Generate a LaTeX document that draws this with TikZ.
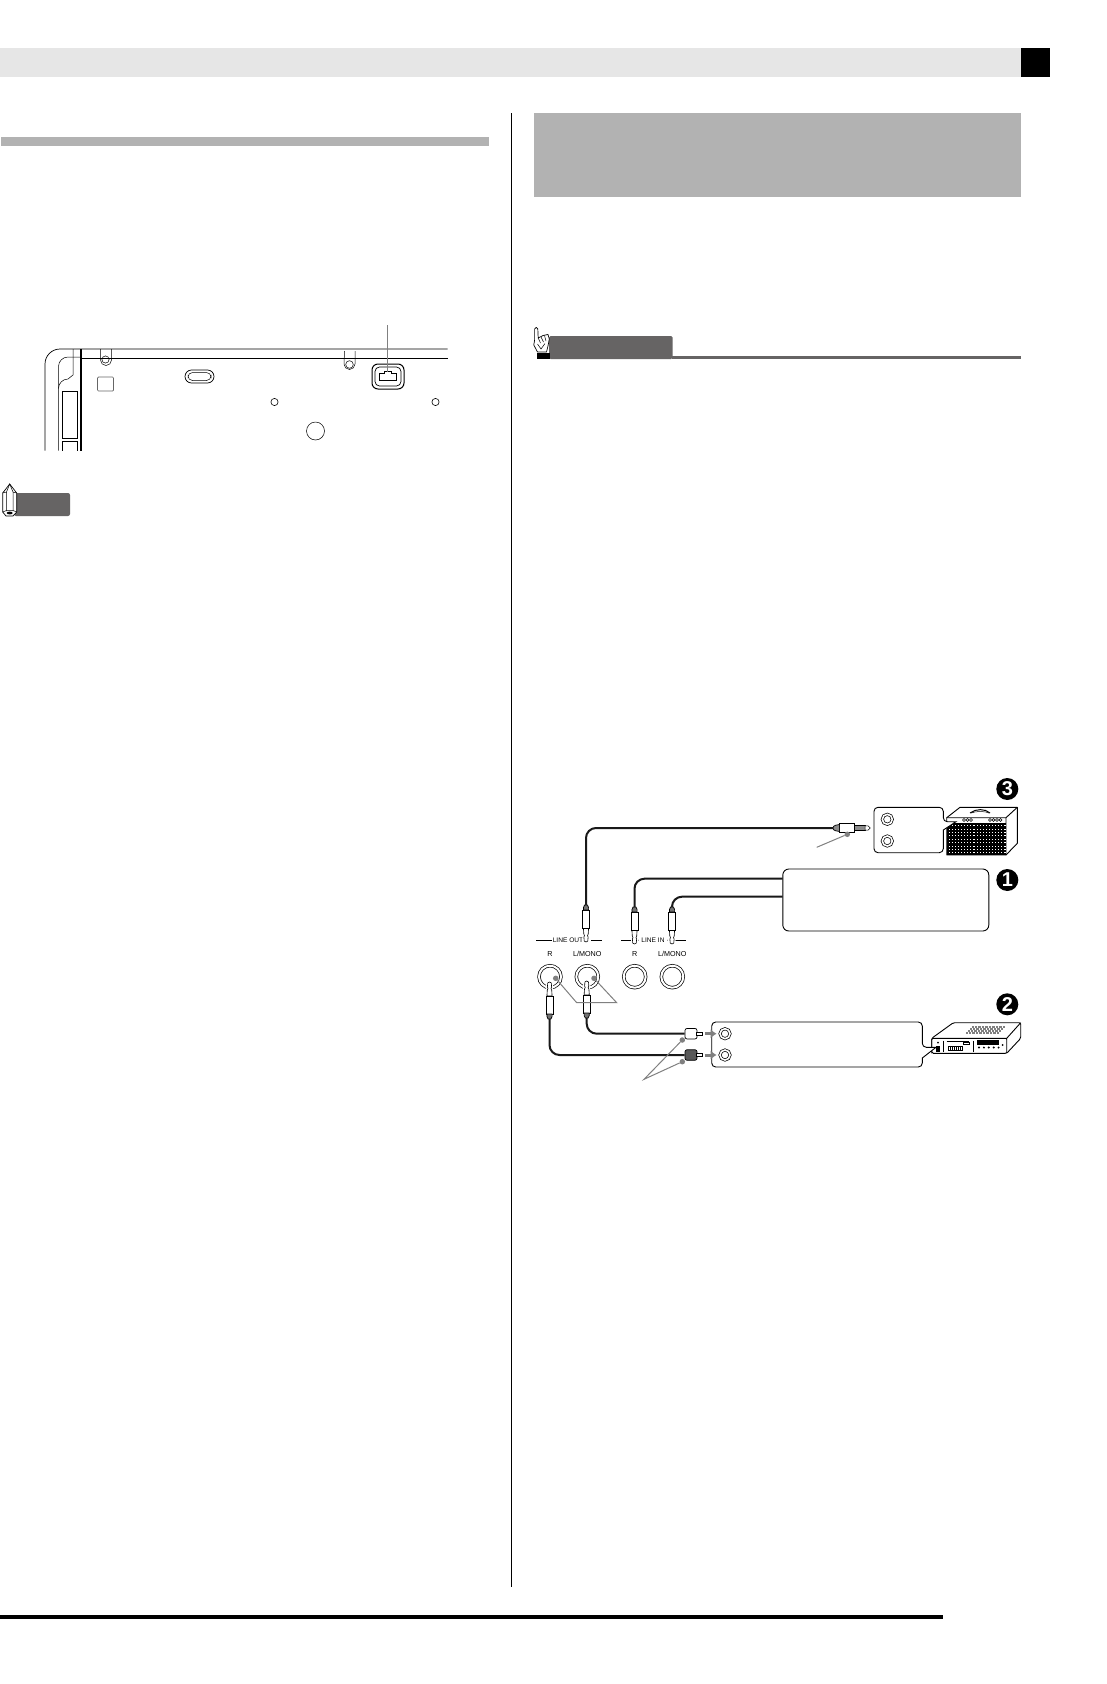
\documentclass[tikz,border=0pt]{standalone}
\usepackage{fontspec}
\setmainfont{Liberation Sans}
\usetikzlibrary{arrows.meta}

\definecolor{barlight}{HTML}{E6E6E6}
\definecolor{barmid}{HTML}{B2B2B2}
\definecolor{tabdark}{HTML}{666464}
\definecolor{leadgray}{HTML}{808080}

\tikzset{
  outline/.style={draw=black, line width=0.7pt},
  cablewire/.style={draw=black!90, line width=2pt, rounded corners=10pt},
  leaderline/.style={draw=leadgray, line width=1pt},
  leaderdot/.style={circle, fill=leadgray, inner sep=0pt, minimum size=5.5pt},
  jackbig/.style={circle, draw=black, line width=0.7pt, double=white, double distance=2pt, inner sep=0pt, minimum size=22pt},
  jacksmall/.style={circle, draw=black, line width=0.7pt, double=white, double distance=1.6pt, inner sep=0pt, minimum size=10pt},
  plugbody/.style={draw=black, fill=white, line width=0.6pt, inner sep=0pt, minimum width=6.8pt, minimum height=18pt},
  plugline/.style={draw=black, fill=white, line width=0.6pt, preaction={draw=white, line width=3pt}},
  rcabody/.style={draw=black, rounded corners=2pt, line width=0.7pt, inner sep=0pt, minimum width=12pt, minimum height=10.5pt},
  rcapin/.style={draw=black, fill=white, line width=0.5pt, inner sep=0pt, minimum width=6pt, minimum height=3pt},
  flowarrow/.style={draw=leadgray, line width=3pt, -{Latex[length=6pt,width=9pt]}, shorten <=2pt, shorten >=3pt},
  panellabel/.style={inner sep=0pt, font=\fontsize{6.6}{7}\selectfont},
  monolabel/.style={inner sep=0pt, font=\fontsize{7.2}{8}\selectfont},
  numdisc/.style={circle, fill=black, text=white, inner sep=0pt, minimum size=22pt, font=\fontsize{20}{20}\selectfont\bfseries},
  calloutbox/.style={draw=black, fill=white, line width=0.9pt},
}

% plug with its cable end: name, x, y, direction
\newcommand{\lineplug}[4]{%
  \begin{scope}[shift={(#2,#3)}, yscale=#4]
    \draw[plugline] (-2.6,9) -- (-2.2,15) -- (-1.5,16.5) -- (-2.1,18) -- (-1.8,22) -- (0,23) -- (1.8,22) -- (2.1,18) -- (1.5,16.5) -- (2.2,15) -- (2.6,9) -- cycle;
    \node[plugbody] (#1) at (0,0) {};
    \draw[outline, fill=black!55] (-2.6,-9) -- (-2.6,-11.5) -- (-1.4,-14) -- (1.4,-14) -- (2.6,-11.5) -- (2.6,-9) -- cycle;
    \coordinate (#1top) at (0,-14);
  \end{scope}}

\begin{document}
\begin{tikzpicture}[x=1pt, y=-1pt]
  \useasboundingbox (0,0) rectangle (1106,1684);
  \fill[white] (0,0) rectangle (1106,1684);

  % page furniture
  \fill[barlight] (0,48) rectangle (1021,77);
  \fill[black] (1021,48) rectangle (1050,77);
  \fill[barmid] (1,137) rectangle (489,146);
  \fill[barmid] (533.5,113) rectangle (1021,197);
  \draw[black, line width=1pt] (511.5,113) -- (511.5,1587);
  \fill[black] (0,1615) rectangle (943,1619);

  % caution tab with the hand
  \fill[tabdark, rounded corners=1.5pt] (549,336) rectangle (672.5,359);
  \fill[tabdark] (672,356) rectangle (1021,359);
  \draw[outline, fill=white, line join=round] (534.6,340) -- (534.6,329) arc (180:360:1.6) -- (538.2,338) -- (543,335.5) -- (548,334.5) -- (549.3,339) -- (548,346) -- (546.5,352) -- (537.5,352) -- (533.8,345) -- cycle;
  \draw[outline, line width=0.5pt] (538.2,338) -- (540.5,343) (541,337) -- (543.5,342) (544.5,335.5) -- (546,341) (537.5,344) -- (541,349) -- (545,343.5);
  \fill[black] (536.5,352.5) rectangle (550,358.5);

  % underside of the keyboard
  \draw[outline] (447.7,349) -- (60,349) arc (270:180:15) -- (45,450.7);
  \draw[outline] (81,358.3) -- (447.7,358.3);
  \draw[black, line width=1.3pt] (81,349) -- (81,450.7);
  \draw[outline, line width=0.5pt] (81,357) -- (68,357) arc (270:180:9.5) -- (58.5,450.7);
  \draw[outline, line width=0.5pt] (73,349) -- (73,375) -- (68,379) arc (270:180:9.5);
  \draw[outline, line width=0.6pt] (62.5,391) rectangle (77.5,438);
  \draw[outline, line width=0.6pt] (62.5,450.7) -- (62.5,441) -- (77.5,441) -- (77.5,450.7);
  \draw[outline, line width=0.5pt] (100.5,349) -- (100.5,360) arc (180:0:5.5) -- (111.5,349);
  \draw[outline, line width=0.5pt] (105.5,359.5) circle (3.6);
  \draw[outline, line width=0.5pt] (344.5,351) -- (344,364) arc (180:0:5.5) -- (355,351);
  \draw[outline, line width=0.5pt] (349.5,364.5) circle (3.8);
  \draw[draw=black!60, line width=0.7pt, rounded corners=1pt] (97.5,377) rectangle (113.5,391);
  \draw[outline, rounded corners=6.5pt] (185,370) rectangle (214,383);
  \draw[outline, line width=0.5pt, rounded corners=4.5pt] (188,372.5) rectangle (211,380.5);
  \draw[outline, line width=0.6pt] (274.5,402) circle (3.6);
  \draw[outline, line width=0.6pt] (435.5,402) circle (3.6);
  \draw[outline, line width=0.5pt] (315.5,431) circle (9);
  \draw[black, line width=1pt, rounded corners=6pt] (372,364) rectangle (404,389);
  \draw[outline, rounded corners=4.5pt] (375,367) rectangle (401,386);
  \draw[outline, fill=white] (379,373.5) -- (384,373.5) -- (384,371) -- (391,371) -- (391,373.5) -- (396,373.5) -- (396,380) -- (379,380) -- cycle;
  \draw[leaderline] (387.5,325) -- (387.5,372);

  % note tab with the pencil
  \fill[tabdark, rounded corners=2pt] (14,493) rectangle (70,516);
  \draw[outline, fill=white] (9.7,484) -- (16.7,493) -- (16.7,512) -- (13,516) -- (6,516) -- (2.7,512) -- (2.7,493) -- cycle;
  \draw[outline, line width=0.5pt] (6.5,511) -- (6.5,492) -- (9.7,484) -- (13,492) -- (13,511) (2.7,493) -- (6.5,492) (16.7,493) -- (13,492);
  \draw[outline, line width=0.5pt] (2.7,512) -- (6.5,510.5) -- (13,510.5) -- (16.7,512);
  \fill[black] (9.7,513) ellipse (3 and 1.4);

  % panel labels
  \node[panellabel] (lblOut) at (568,940) {LINE OUT};
  \node[panellabel] (lblIn) at (653,940) {· LINE IN ·};
  \coordinate (outLeft) at (536,940);
  \coordinate (outRight) at (601.5,940);
  \coordinate (inLeft) at (621,940);
  \coordinate (inRight) at (686,940);
  \draw[outline] (lblOut.west) ++(-1,0) -- (outLeft);
  \draw[outline] (lblOut.east) ++(8,0) -- (outRight);
  \draw[outline] (lblIn.west) ++(-6,0) -- (inLeft);
  \draw[outline] (lblIn.east) ++(6,0) -- (inRight);
  \node[monolabel] (lblR) at (550,954) {R};
  \node[monolabel] (lblL) at (587.3,954) {L/MONO};
  \node[monolabel] (lblRin) at (634.7,954) {R};
  \node[monolabel] (lblLin) at (672.3,954) {L/MONO};

  % jacks on the panel
  \node[jackbig] (jackOutR) at (550,976.7) {};
  \node[jackbig] (jackOutL) at (587.3,976.7) {};
  \node[jackbig] (jackInR) at (634.7,976.7) {};
  \node[jackbig] (jackInL) at (672.3,976.7) {};

  % external units
  \node[outline, line width=0.9pt, rounded corners=6pt, minimum width=206pt, minimum height=62pt, inner sep=0pt] (boxSource) at (885.8,900) {};
  \node[numdisc] (numOne) at (1007.3,880) {1};
  \node[numdisc] (numTwo) at (1007.3,1004.3) {2};
  \node[numdisc] (numThree) at (1007.3,789) {3};

  % amplifier
  \draw[outline, line width=0.9pt, fill=white, line join=round] (946.7,817.7) -- (960,807.3) -- (1017.3,807.3) -- (1017.3,843.3) -- (1006,855) -- (946.7,855) -- cycle;
  \draw[outline, line width=0.9pt] (1006,855) -- (1006,817.7) -- (946.7,817.7) (1006,817.7) -- (1017.3,807.3);
  \draw[outline, line width=1pt] (970,813) .. controls (976,808.5) and (985,808.5) .. (990,813);
  \draw[outline, line width=0.5pt] (971,813) .. controls (976,811) and (985,811) .. (989,813);
  \foreach \kx in {964,967.5,971,990,993.5,997,1000.5}
    \draw[outline, line width=0.4pt] (\kx,820) circle (1.5);
  \fill[black] (946.7,823.3) rectangle (1006,855);
  \foreach \gx in {0,...,18}
    \foreach \gy in {0,...,8}
      \fill[white] (948.6+3.1*\gx,825.2+3.4*\gy) rectangle ++(1.1,1);
  \draw[calloutbox, rounded corners=4pt] (874,830) |- (943.3,807.3) -- (943.3,821.7) [sharp corners] -- (956,821.7) -- (943.3,830) [rounded corners=4pt] -- (943.3,852.7) -| (874,830) -- cycle;
  \node[jacksmall] (ampJackA) at (887.3,819.3) {};
  \node[jacksmall] (ampJackB) at (887.3,841) {};

  % stereo receiver
  \draw[outline, line width=0.9pt, fill=white] (937.3,1051) circle (2.5);
  \draw[outline, line width=0.9pt, fill=white] (998.3,1051) circle (2.5);
  \draw[outline, line width=0.9pt, rounded corners=1.5pt, fill=white] (931.7,1038.3) -- (953.3,1022.7) -- (1020.7,1022.7) -- (1020.7,1038.3) -- (1006.7,1053.3) -- (931.7,1053.3) -- cycle;
  \draw[outline, line width=0.9pt, rounded corners=1pt] (931.7,1053.3) -- (931.7,1038.3) -- (1006.7,1038.3) -- (1006.7,1053.3) (1006.7,1038.3) -- (1020.7,1022.7);
  \foreach \vy/\vx in {1027/972,1029/970,1031/968,1033/966}
    \draw[draw=black!50, line width=1.2pt, dash pattern=on 0.7pt off 0.7pt] (\vx,\vy) -- ++(33,0);
  \draw[outline, line width=0.5pt] (943.3,1040.5) -- (943.3,1051.5) (973.3,1040.5) -- (973.3,1051.5);
  \draw[outline, line width=0.5pt] (946.7,1041.2) -- (969.3,1041.2);
  \draw[outline, line width=0.4pt] (962.7,1041.8) rectangle (969.3,1044);
  \foreach \bx in {0,...,6}
    \draw[outline, line width=0.4pt] (947.7+2.1*\bx,1046.2) rectangle ++(2.1,3.8);
  \fill[black] (976.7,1040) rectangle (999,1044.5);
  \foreach \dx in {0,...,4}
    \fill[black] (979+4.9*\dx,1047.5) circle (1.1);
  \fill[black] (1002.7,1045) circle (1);
  \draw[calloutbox, rounded corners=4pt] (711.7,1044) |- (922.3,1022) -- (922.3,1047.3) [sharp corners] -- (936,1047.3) -- (922.3,1058) [rounded corners=4pt] -- (922.3,1067) -| (711.7,1044) -- cycle;
  \fill[black] (936,1046) rectangle (940,1052);
  \fill[black] (938,1042.5) circle (1);
  \node[jacksmall] (boxJackA) at (725,1033.7) {};
  \node[jacksmall] (boxJackB) at (725,1055) {};

  % plugs
  \lineplug{plugOut}{586}{919}{1}
  \lineplug{plugInR}{634.5}{921}{1}
  \lineplug{plugInL}{672}{921}{1}
  \lineplug{plugRecR}{549.5}{1005}{-1}
  \lineplug{plugRecL}{586.7}{1004}{-1}

  % plug at the amplifier
  \node[outline, fill=white, inner sep=0pt, minimum width=15pt, minimum height=9pt] (plugAmp) at (847.2,828) {};
  \draw[outline, fill=black!45] (plugAmp.west) ++(0,-3.5) -- ++(-4,0.8) -- ++(-2,1.2) -- ++(0,3) -- ++(2,1.2) -- ++(4,0.8) -- cycle;
  \coordinate (plugAmpEnd) at (833,828);
  \draw[outline, fill=black!45] (854.7,825.8) rectangle (865,830.2);
  \draw[outline, line width=0.5pt, fill=white] (865,825.8) -- (868,825.8) -- (870.3,828) -- (868,830.2) -- (865,830.2) -- cycle;

  % RCA plugs
  \node[rcabody, fill=white] (rcaWhite) at (691,1033.7) {};
  \node[rcabody, fill=black!65] (rcaBlack) at (691,1055) {};
  \node[rcapin] (pinWhite) at (699.7,1033.7) {};
  \node[rcapin] (pinBlack) at (699.7,1055) {};
  \draw[flowarrow] (pinWhite.east) -- (boxJackA.west);
  \draw[flowarrow] (pinBlack.east) -- (boxJackB.west);

  % cables
  \draw[cablewire] (plugOuttop) |- (plugAmpEnd);
  \coordinate (sourceR) at (782.7,878.7);
  \coordinate (sourceL) at (782.7,896.7);
  \draw[cablewire] (plugInRtop) |- (sourceR);
  \draw[cablewire] (plugInLtop) |- (sourceL);
  \draw[cablewire] (plugRecRtop) |- (rcaBlack.west);
  \draw[cablewire] (plugRecLtop) |- (rcaWhite.west);

  % leaders
  \node[leaderdot] (dotJackR) at (555.7,978.3) {};
  \node[leaderdot] (dotJackL) at (594,978.3) {};
  \coordinate (elbowA) at (576.7,1002.7);
  \coordinate (elbowB) at (616.7,1002.7);
  \draw[leaderline] (dotJackR) -- (elbowA) -- (elbowB) -- (dotJackL);
  \node[leaderdot] (dotRcaW) at (682.3,1040) {};
  \node[leaderdot] (dotRcaB) at (682.3,1061.7) {};
  \coordinate (rcaFoot) at (644,1079.3);
  \draw[leaderline] (dotRcaW) -- (rcaFoot) -- (dotRcaB);
  \node[leaderdot] (dotAmp) at (847.3,834.3) {};
  \coordinate (ampFoot) at (816.7,847.3);
  \draw[leaderline] (dotAmp) -- (ampFoot);
\end{tikzpicture}
\end{document}
